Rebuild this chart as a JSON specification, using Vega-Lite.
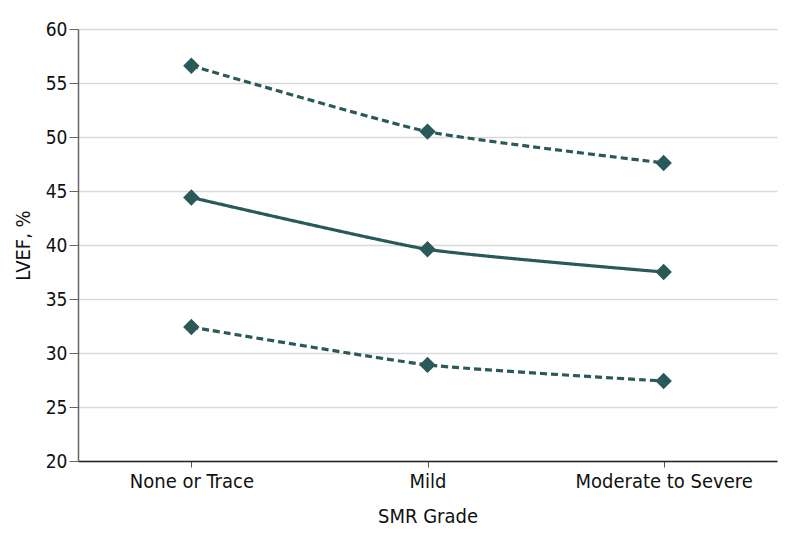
{
  "$schema": "https://vega.github.io/schema/vega-lite/v6.json",
  "width": 699,
  "height": 432,
  "autosize": {"type": "none"},
  "padding": {"left": 78, "top": 29, "right": 17, "bottom": 85},
  "background": "white",
  "config": {
    "view": {"stroke": null},
    "font": "DejaVu Sans Condensed, Open Sans, sans-serif",
    "axis": {"labelFont": "DejaVu Sans Condensed, Open Sans, sans-serif", "titleFont": "DejaVu Sans Condensed, Open Sans, sans-serif", "labelColor": "#111", "titleColor": "#111", "titleFontWeight": "normal"}
  },
  "data": {
    "values": [
      {"grade": "None or Trace", "series": "Upper", "style": "dashed", "value": 56.6},
      {"grade": "Mild", "series": "Upper", "style": "dashed", "value": 50.5},
      {"grade": "Moderate to Severe", "series": "Upper", "style": "dashed", "value": 47.6},
      {"grade": "None or Trace", "series": "Mean", "style": "solid", "value": 44.4},
      {"grade": "Mild", "series": "Mean", "style": "solid", "value": 39.6},
      {"grade": "Moderate to Severe", "series": "Mean", "style": "solid", "value": 37.5},
      {"grade": "None or Trace", "series": "Lower", "style": "dashed", "value": 32.4},
      {"grade": "Mild", "series": "Lower", "style": "dashed", "value": 28.9},
      {"grade": "Moderate to Severe", "series": "Lower", "style": "dashed", "value": 27.4}
    ]
  },
  "encoding": {
    "x": {
      "field": "grade", "type": "ordinal",
      "sort": ["None or Trace", "Mild", "Moderate to Severe"],
      "scale": {"type": "point", "padding": 0.48},
      "axis": {"title": "SMR Grade", "labelAngle": 0, "labelFontSize": 20, "titleFontSize": 20, "labelPadding": 4, "titlePadding": 15, "domainColor": "#222", "domainWidth": 1.5, "tickColor": "#555", "tickSize": 6, "grid": false}
    },
    "y": {
      "field": "value", "type": "quantitative",
      "scale": {"domain": [20, 60], "nice": false, "zero": false},
      "axis": {"title": "LVEF, %", "values": [20, 25, 30, 35, 40, 45, 50, 55, 60], "labelFontSize": 19, "titleFontSize": 20, "labelPadding": 2, "titlePadding": 12, "domainColor": "#666", "domainWidth": 1.5, "tickColor": "#666", "tickSize": 9, "gridColor": "#d9d9d9", "gridWidth": 1.5}
    }
  },
  "layer": [
    {
      "mark": {"type": "line", "interpolate": "cardinal", "tension": 0.5, "color": "#2a5959", "strokeWidth": 3.2},
      "encoding": {
        "detail": {"field": "series"},
        "strokeDash": {"field": "style", "type": "nominal", "scale": {"domain": ["solid", "dashed"], "range": [[1, 0], [7, 4]]}, "legend": null}
      }
    },
    {
      "mark": {"type": "point", "shape": "diamond", "filled": true, "color": "#2a5959", "size": 270, "opacity": 1}
    }
  ]
}
